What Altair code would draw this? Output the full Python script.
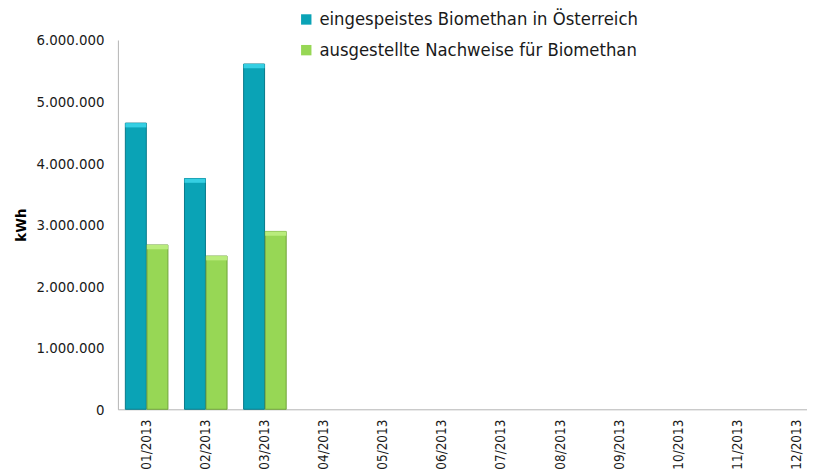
import altair as alt
import pandas as pd

months = ["01/2013", "02/2013", "03/2013", "04/2013", "05/2013", "06/2013",
          "07/2013", "08/2013", "09/2013", "10/2013", "11/2013", "12/2013"]
series = ["eingespeistes Biomethan in Österreich", "ausgestellte Nachweise für Biomethan"]
fed_in = [4650000, 3750000, 5610000]
certificates = [2670000, 2490000, 2890000]
y_ticks = [0, 1000000, 2000000, 3000000, 4000000, 5000000, 6000000]

rows = []
for m, v in zip(months, fed_in):
    rows.append({"Monat": m, "Reihe": series[0], "kWh": v})
for m, v in zip(months, certificates):
    rows.append({"Monat": m, "Reihe": series[1], "kWh": v})
df = pd.DataFrame(rows)

FONT = "DejaVu Sans Condensed, Liberation Sans, sans-serif"

x_enc = alt.X("Monat:N",
              scale=alt.Scale(domain=months, range=[0, 715], paddingInner=0.28, paddingOuter=0.126),
              axis=alt.Axis(title=None, labelAngle=-90, labelFontSize=13.5, labelPadding=10,
                            ticks=False, domainColor="#b3b3b3", labelColor="#1a1a1a"))
xoff_enc = alt.XOffset("Reihe:N", scale=alt.Scale(domain=series, paddingInner=0.03))

base = alt.Chart(df)

bars = base.mark_bar(strokeWidth=1).encode(
    x=x_enc,
    xOffset=xoff_enc,
    y=alt.Y("kWh:Q",
            scale=alt.Scale(domain=[0, 6000000]),
            axis=alt.Axis(values=y_ticks, format=",d", title="kWh", titleFontWeight="bold",
                          titleFontSize=15, titlePadding=8, labelFontSize=15, labelPadding=14,
                          ticks=False, grid=False, domainColor="#b3b3b3", labelColor="#1a1a1a",
                          titleColor="#000000")),
    color=alt.Color("Reihe:N",
                    scale=alt.Scale(domain=series, range=["#0aa3b6", "#97d755"]),
                    legend=alt.Legend(title=None, orient="none", legendX=181, legendY=-30,
                                      symbolType="square", symbolSize=110, labelFontSize=18.5,
                                      rowPadding=12, labelColor="#1a1a1a", labelLimit=600,
                                      symbolStrokeWidth=0)),
    stroke=alt.Stroke("Reihe:N", scale=alt.Scale(domain=series, range=["#07798a", "#6fa33a"]),
                      legend=None),
)

caps = base.transform_calculate(
    cap="datum.kWh - 70000"
).mark_bar(strokeWidth=0).encode(
    x=x_enc,
    xOffset=xoff_enc,
    y=alt.Y("kWh:Q"),
    y2=alt.Y2("cap:Q"),
    fill=alt.Fill("Reihe:N", scale=alt.Scale(domain=series, range=["#35cfe3", "#b9ec7c"]),
                  legend=None),
)

chart = alt.layer(bars, caps).resolve_scale(fill="independent").properties(
    width=696,
    height=373,
    autosize=alt.AutoSizeParams(type="none"),
    padding={"left": 111, "top": 30, "right": 0, "bottom": 62},
).configure(
    locale={"number": {"decimal": ",", "thousands": ".", "grouping": [3], "currency": ["", " €"]}},
    font=FONT,
).configure_view(stroke=None)

chart.save("out.html", embed_options={"renderer": "svg", "actions": False})
